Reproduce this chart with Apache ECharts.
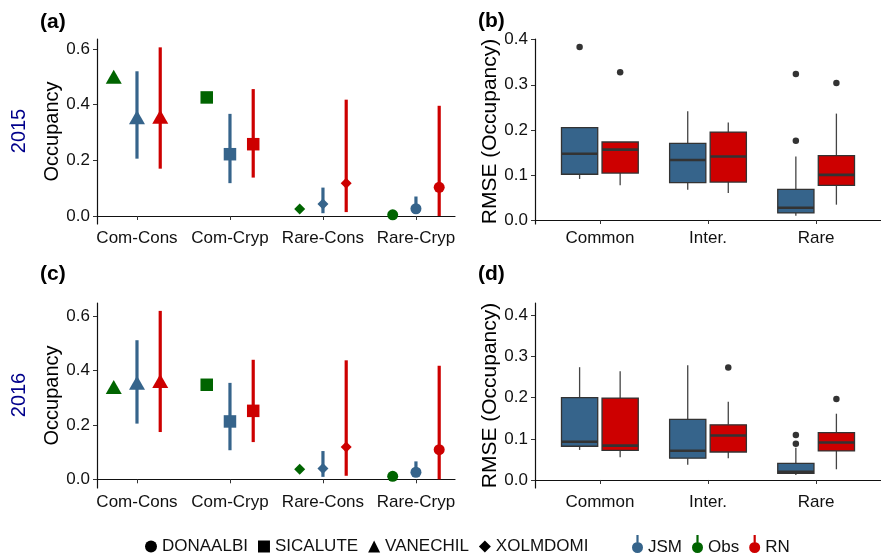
<!DOCTYPE html>
<html>
<head>
<meta charset="utf-8">
<script src="https://cdn.jsdelivr.net/npm/echarts@6/dist/echarts.min.js"></script>
<style>
  html, body { margin: 0; padding: 0; background: #fff; }
  #chart { width: 881px; height: 553px; }
</style>
</head>
<body>
<div id="chart"></div>
<script>
// groups on the left panels, with the species plotted for each
const groups = ['Com-Cons', 'Com-Cryp', 'Rare-Cons', 'Rare-Cryp'];
const groupSpecies = ['VANECHIL', 'SICALUTE', 'XOLMDOMI', 'DONAALBI'];
const speciesNames = ['DONAALBI', 'SICALUTE', 'VANECHIL', 'XOLMDOMI'];
const speciesShapes = ['circle', 'rect', 'triangle', 'diamond'];
const methods = ['JSM', 'Obs', 'RN'];

// 2015 occupancy
const obs2015 = [0.50, 0.426, 0.025, 0.004];
const jsm2015 = [0.355, 0.222, 0.043, 0.026];
const jsmLo2015 = [0.206, 0.118, 0.010, 0.010];
const jsmHi2015 = [0.520, 0.367, 0.102, 0.070];
const rn2015 = [0.357, 0.258, 0.118, 0.103];
const rnLo2015 = [0.170, 0.138, 0.014, 0.000];
const rnHi2015 = [0.606, 0.456, 0.418, 0.396];

// 2016 occupancy
const obs2016 = [0.340, 0.348, 0.037, 0.011];
const jsm2016 = [0.355, 0.213, 0.040, 0.026];
const jsmLo2016 = [0.205, 0.107, 0.009, 0.009];
const jsmHi2016 = [0.512, 0.355, 0.104, 0.066];
const rn2016 = [0.362, 0.252, 0.119, 0.109];
const rnLo2016 = [0.174, 0.137, 0.013, 0.000];
const rnHi2016 = [0.620, 0.440, 0.438, 0.418];

// RMSE boxplots: [lower whisker, q1, median, q3, upper whisker]
const classes = ['Common', 'Inter.', 'Rare'];
const boxJsm2015 = [[0.091, 0.1015, 0.147, 0.205, 0.205], [0.067, 0.083, 0.133, 0.170, 0.241], [0.0096, 0.0156, 0.027, 0.068, 0.141]];
const boxRn2015 = [[0.077, 0.104, 0.156, 0.173, 0.173], [0.060, 0.084, 0.141, 0.195, 0.216], [0.034, 0.077, 0.100, 0.143, 0.236]];
const outJsm2015 = [[0, 0.384], [2, 0.176], [2, 0.324]];
const outRn2015 = [[0, 0.328], [2, 0.304]];
const boxJsm2016 = [[0.073, 0.082, 0.093, 0.200, 0.274], [0.037, 0.053, 0.071, 0.147, 0.279], [0.012, 0.016, 0.020, 0.0405, 0.078]];
const boxRn2016 = [[0.055, 0.072, 0.0835, 0.199, 0.264], [0.053, 0.068, 0.108, 0.134, 0.190], [0.026, 0.0705, 0.091, 0.115, 0.161]];
const outJsm2016 = [[2, 0.1095], [2, 0.088]];
const outRn2016 = [[1, 0.273], [2, 0.197]];

const occTicks = [0, 0.2, 0.4, 0.6];
const rmseTicks = [0, 0.1, 0.2, 0.3, 0.4];

const FONT = '"Liberation Sans", Arial, sans-serif';
const colors = { JSM: '#36648B', Obs: '#006400', RN: '#CD0000' };
const offsets = { Obs: -0.25, JSM: 0, RN: 0.25 };
const symbolSizes = { circle: 11, rect: 12.5, triangle: [16, 14], diamond: 11 };

const chart = echarts.init(document.getElementById('chart'));

function xOcc(gridIndex) {
    return {
        type: 'value', gridIndex, min: 0.57, max: 4.42,
        axisLine: { show: true, lineStyle: { color: '#111', width: 1.2 } },
        axisTick: { show: true, customValues: [1, 2, 3, 4], length: 4, lineStyle: { color: '#333' } },
        axisLabel: { customValues: [1, 2, 3, 4], formatter: v => groups[Math.round(v) - 1], fontSize: 17, color: '#111', fontFamily: FONT, margin: 6 },
        splitLine: { show: false }
    };
}
function yOcc(gridIndex, min, max) {
    return {
        type: 'value', gridIndex, min, max,
        name: 'Occupancy', nameLocation: 'middle', nameGap: 33, nameRotate: 90,
        nameTextStyle: { fontSize: 20, color: '#000', fontFamily: FONT },
        axisLine: { show: true, lineStyle: { color: '#111', width: 1.2 } },
        axisTick: { show: true, customValues: occTicks, length: 4, lineStyle: { color: '#333' } },
        axisLabel: { customValues: occTicks, formatter: v => v.toFixed(1), fontSize: 17, color: '#111', fontFamily: FONT, margin: 7 },
        splitLine: { show: false }
    };
}
function xRmse(gridIndex) {
    return {
        type: 'value', gridIndex, min: 0.4, max: 3.6,
        axisLine: { show: true, lineStyle: { color: '#111', width: 1.2 } },
        axisTick: { show: true, customValues: [1, 2, 3], length: 4, lineStyle: { color: '#333' } },
        axisLabel: { customValues: [1, 2, 3], formatter: v => classes[Math.round(v) - 1], fontSize: 17, color: '#111', fontFamily: FONT, margin: 6 },
        splitLine: { show: false }
    };
}
function yRmse(gridIndex, min, max) {
    return {
        type: 'value', gridIndex, min, max,
        name: 'RMSE (Occupancy)', nameLocation: 'middle', nameGap: 23, nameRotate: 90,
        nameTextStyle: { fontSize: 21, color: '#000', fontFamily: FONT },
        axisLine: { show: true, lineStyle: { color: '#111', width: 1.2 } },
        axisTick: { show: true, customValues: rmseTicks, length: 4, lineStyle: { color: '#333' } },
        axisLabel: { customValues: rmseTicks, formatter: v => v.toFixed(1), fontSize: 17, color: '#111', fontFamily: FONT, margin: 7 },
        splitLine: { show: false }
    };
}

// vertical interval lines
function errorBarSeries(name, idx, est, lo, hi) {
    return {
        type: 'custom', name, xAxisIndex: idx, yAxisIndex: idx,
        itemStyle: { color: colors[name] },
        encode: { x: 0, y: [1, 2] },
        data: groups.map((g, i) => [i + 1 + offsets[name], lo ? lo[i] : est[i], hi ? hi[i] : est[i]]),
        renderItem: (params, api) => {
            const a = api.coord([api.value(0), api.value(2)]);
            const b = api.coord([api.value(0), api.value(1)]);
            return { type: 'line', shape: { x1: a[0], y1: a[1], x2: b[0], y2: b[1] }, style: { stroke: api.visual('color'), lineWidth: 3.2 } };
        },
        z: 2
    };
}

// one scatter series per species (shape), points coloured by method
function pointSeries(idx, obs, jsm, rn) {
    const vals = { Obs: obs, JSM: jsm, RN: rn };
    return speciesNames.map((sp, k) => {
        const i = groupSpecies.indexOf(sp);
        const shape = speciesShapes[k];
        return {
            type: 'scatter', name: sp, xAxisIndex: idx, yAxisIndex: idx,
            symbol: shape, symbolSize: symbolSizes[shape],
            itemStyle: { color: '#000', opacity: 1 },
            data: ['Obs', 'JSM', 'RN'].map(m => ({
                value: [i + 1 + offsets[m], vals[m][i]],
                itemStyle: { color: colors[m] }
            })),
            z: 3
        };
    });
}

function boxSeries(name, idx, boxes, off) {
    return {
        type: 'custom', name, xAxisIndex: idx, yAxisIndex: idx,
        itemStyle: { color: colors[name] },
        encode: { x: 0, y: [1, 2, 3, 4, 5] },
        data: boxes.map((b, i) => [i + 1 + off].concat(b)),
        renderItem: (params, api) => {
            const x = api.value(0);
            const hw = api.size([0.335, 0])[0] / 2;
            const p = [1, 2, 3, 4, 5].map(d => api.coord([x, api.value(d)]));
            const cx = p[0][0];
            return {
                type: 'group',
                children: [
                    { type: 'line', shape: { x1: cx, y1: p[0][1], x2: cx, y2: p[1][1] }, style: { stroke: '#444', lineWidth: 1.3 } },
                    { type: 'line', shape: { x1: cx, y1: p[3][1], x2: cx, y2: p[4][1] }, style: { stroke: '#444', lineWidth: 1.3 } },
                    { type: 'rect', shape: { x: cx - hw, y: p[3][1], width: hw * 2, height: p[1][1] - p[3][1] }, style: { fill: api.visual('color'), stroke: '#333', lineWidth: 1.3 } },
                    { type: 'line', shape: { x1: cx - hw, y1: p[2][1], x2: cx + hw, y2: p[2][1] }, style: { stroke: '#333', lineWidth: 2.6 } }
                ]
            };
        },
        z: 2
    };
}

function outlierSeries(idx, outs, off) {
    return {
        type: 'scatter', name: 'outliers', xAxisIndex: idx, yAxisIndex: idx,
        symbol: 'circle', symbolSize: 6.5,
        itemStyle: { color: '#333', opacity: 1 },
        data: outs.map(o => [o[0] + 1 + off, o[1]]),
        z: 3
    };
}

// point-range key: thin vertical bar with a dot in the middle
const pointrangeIcon = 'path://M4.4,0H6.6V25H4.4Z M11,12.5A5.5,5.5,0,1,1,0,12.5A5.5,5.5,0,1,1,11,12.5Z';

const option = {
    backgroundColor: '#fff',
    animation: false,
    textStyle: { fontFamily: FONT },
    grid: [
        { left: 97, right: 426, top: 39, bottom: 329 },
        { left: 535, right: -13, top: 39, bottom: 329 },
        { left: 97, right: 426, top: 303, bottom: 65 },
        { left: 535, right: -13, top: 303, bottom: 65 }
    ],
    xAxis: [xOcc(0), xRmse(1), xOcc(2), xRmse(3)],
    yAxis: [yOcc(0, -0.0288, 0.636), yRmse(1, -0.0089, 0.4015), yOcc(2, -0.032, 0.649), yRmse(3, -0.0195, 0.43)],
    legend: [
        {
            left: 140, top: 533, itemWidth: 12, itemHeight: 12, itemGap: 10, selectedMode: false,
            textStyle: { fontSize: 17, color: '#111', fontFamily: FONT },
            data: speciesNames.map((n, k) => ({ name: n, icon: speciesShapes[k], itemStyle: { color: '#000' } }))
        },
        {
            left: 627, top: 530, itemWidth: 11, itemHeight: 25, itemGap: 10, selectedMode: false,
            textStyle: { fontSize: 17, color: '#111', fontFamily: FONT },
            data: methods.map(m => ({ name: m, icon: pointrangeIcon, itemStyle: { color: colors[m] } }))
        }
    ],
    graphic: [
        { type: 'text', left: 40, top: 12, style: { text: '(a)', font: 'bold 21px ' + FONT, fill: '#000' } },
        { type: 'text', left: 478, top: 11, style: { text: '(b)', font: 'bold 21px ' + FONT, fill: '#000' } },
        { type: 'text', left: 40, top: 264, style: { text: '(c)', font: 'bold 21px ' + FONT, fill: '#000' } },
        { type: 'text', left: 478, top: 264, style: { text: '(d)', font: 'bold 21px ' + FONT, fill: '#000' } },
        { type: 'text', x: 19, y: 131, rotation: Math.PI / 2, style: { text: '2015', font: '20px ' + FONT, fill: '#00008B', align: 'center', verticalAlign: 'middle' } },
        { type: 'text', x: 19, y: 395, rotation: Math.PI / 2, style: { text: '2016', font: '20px ' + FONT, fill: '#00008B', align: 'center', verticalAlign: 'middle' } }
    ],
    series: [
        errorBarSeries('Obs', 0, obs2015, null, null),
        errorBarSeries('JSM', 0, jsm2015, jsmLo2015, jsmHi2015),
        errorBarSeries('RN', 0, rn2015, rnLo2015, rnHi2015),
        ...pointSeries(0, obs2015, jsm2015, rn2015),
        errorBarSeries('Obs', 2, obs2016, null, null),
        errorBarSeries('JSM', 2, jsm2016, jsmLo2016, jsmHi2016),
        errorBarSeries('RN', 2, rn2016, rnLo2016, rnHi2016),
        ...pointSeries(2, obs2016, jsm2016, rn2016),
        boxSeries('JSM', 1, boxJsm2015, -0.1875),
        boxSeries('RN', 1, boxRn2015, 0.1875),
        outlierSeries(1, outJsm2015, -0.1875),
        outlierSeries(1, outRn2015, 0.1875),
        boxSeries('JSM', 3, boxJsm2016, -0.1875),
        boxSeries('RN', 3, boxRn2016, 0.1875),
        outlierSeries(3, outJsm2016, -0.1875),
        outlierSeries(3, outRn2016, 0.1875)
    ]
};

chart.setOption(option);
</script>
</body>
</html>
